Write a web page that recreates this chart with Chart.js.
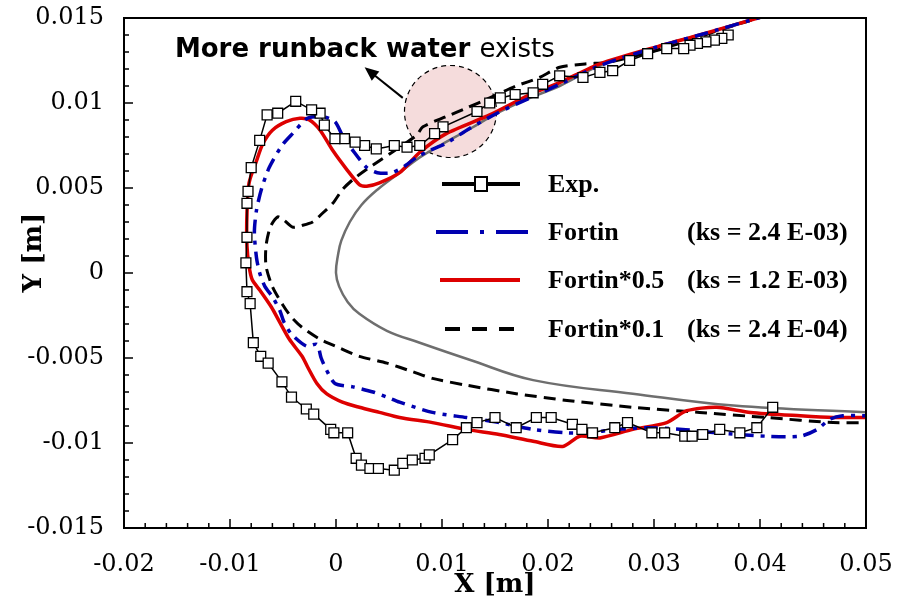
<!DOCTYPE html>
<html>
<head>
<meta charset="utf-8">
<script src="https://cdn.jsdelivr.net/npm/chart.js@4.4.1/dist/chart.umd.min.js"></script>
<style>
  html, body { margin: 0; padding: 0; background: #fff; }
  #wrap { width: 901px; height: 605px; }
</style>
</head>
<body>
<div id="wrap"><canvas id="c" width="901" height="605"></canvas></div>
<script>
// Ice shapes on the airfoil leading edge: experiment vs. Fortin roughness variants
const xTickLabels = ['-0.02', '-0.01', '0', '0.01', '0.02', '0.03', '0.04', '0.05'];
const yTickLabels = ['-0.015', '-0.01', '-0.005', '0', '0.005', '0.01', '0.015'];

const seriesNames = ['Exp.', 'Fortin', 'Fortin*0.5', 'Fortin*0.1'];
const ksLabels = ['', '(ks = 2.4 E-03)', '(ks = 1.2 E-03)', '(ks = 2.4 E-04)'];

// Experimental ice contour (upper trailing end -> leading edge -> lower end)
const expX = [0.0370,0.0364,0.0357,0.0349,0.0341,0.0334,0.0328,0.0312,0.0294,0.0277,
  0.0261,0.0249,0.0233,0.0211,0.0195,0.0186,0.0169,0.0155,0.0145,0.0133,
  0.0101,0.0093,0.0079,0.0067,0.0055,0.0038,0.0027,0.0018,0.0008,-0.0001,
  -0.0011,-0.0015,-0.0023,-0.0038,-0.0055,-0.0065,-0.0072,-0.0080,-0.0083,-0.0084,
  -0.0084,-0.0085,-0.0084,-0.0081,-0.0078,-0.0071,-0.0064,-0.0051,-0.0042,-0.0028,
  -0.0021,-0.0005,-0.0002,0.0011,0.0019,0.0024,0.0032,0.0040,0.0055,0.0063,
  0.0072,0.0084,0.0088,0.0110,0.0123,0.0133,0.0150,0.0170,0.0189,0.0203,
  0.0223,0.0232,0.0242,0.0263,0.0275,0.0298,0.0310,0.0329,0.0336,0.0346,
  0.0362,0.0381,0.0397,0.0412];
const expY = [0.0140,0.0138,0.0137,0.0136,0.0135,0.0134,0.0132,0.0132,0.0129,0.0125,
  0.0119,0.0118,0.0115,0.0116,0.0111,0.0106,0.0105,0.0103,0.0100,0.0095,
  0.0086,0.0082,0.0075,0.0074,0.0075,0.0073,0.0075,0.0077,0.0079,0.0079,
  0.0087,0.0094,0.0096,0.0101,0.0094,0.0093,0.0078,0.0062,0.0048,0.0041,
  0.0021,0.0006,-0.0011,-0.0018,-0.0041,-0.0049,-0.0053,-0.0064,-0.0073,-0.0080,
  -0.0083,-0.0092,-0.0094,-0.0094,-0.0109,-0.0113,-0.0115,-0.0115,-0.0116,-0.0112,
  -0.0110,-0.0109,-0.0107,-0.0098,-0.0091,-0.0088,-0.0085,-0.0091,-0.0085,-0.0085,
  -0.0089,-0.0092,-0.0094,-0.0091,-0.0088,-0.0094,-0.0094,-0.0096,-0.0096,-0.0095,
  -0.0092,-0.0094,-0.0091,-0.0079];

// Fortin (ks = 2.4E-03)
const fortinX = [0.0409,0.0343,0.0308,0.0249,0.0211,0.0183,0.0152,0.0126,0.0103,0.0088,
  0.0076,0.0065,0.0053,0.0039,0.0029,0.0016,0.0006,-0.0001,-0.0013,-0.0027,
  -0.0041,-0.0051,-0.0063,-0.0070,-0.0075,-0.0077,-0.0075,-0.0072,-0.0067,-0.0060,
  -0.0053,-0.0049,-0.0042,-0.0028,-0.0018,-0.0014,-0.0009,-0.0001,0.0016,0.0035,
  0.0048,0.0060,0.0091,0.0123,0.0154,0.0186,0.0218,0.0237,0.0265,0.0293,
  0.0327,0.0359,0.0406,0.0438,0.0454,0.0466,0.0478,0.0501];
const fortinY = [0.0152,0.0140,0.0134,0.0122,0.0111,0.0103,0.0094,0.0085,0.0076,0.0072,
  0.0068,0.0063,0.0059,0.0059,0.0062,0.0072,0.0081,0.0089,0.0092,0.0091,
  0.0082,0.0075,0.0062,0.0050,0.0037,0.0024,0.0009,0.0000,-0.0008,-0.0014,
  -0.0022,-0.0029,-0.0036,-0.0043,-0.0042,-0.0050,-0.0057,-0.0065,-0.0067,-0.0070,
  -0.0073,-0.0076,-0.0082,-0.0085,-0.0088,-0.0092,-0.0094,-0.0094,-0.0092,-0.0091,
  -0.0092,-0.0094,-0.0096,-0.0096,-0.0092,-0.0086,-0.0084,-0.0084];

// Fortin*0.5 (ks = 1.2E-03)
const halfX = [0.0409,0.0343,0.0308,0.0249,0.0211,0.0183,0.0145,0.0104,0.0079,0.0060,
  0.0041,0.0029,0.0022,0.0010,-0.0003,-0.0015,-0.0025,-0.0034,-0.0047,-0.0060,
  -0.0069,-0.0075,-0.0082,-0.0084,-0.0084,-0.0082,-0.0079,-0.0072,-0.0061,-0.0053,
  -0.0044,-0.0032,-0.0027,-0.0018,-0.0009,0.0006,0.0022,0.0041,0.0060,0.0091,
  0.0123,0.0154,0.0186,0.0214,0.0230,0.0249,0.0280,0.0312,0.0331,0.0359,
  0.0391,0.0438,0.0469,0.0501];
const halfY = [0.0152,0.0140,0.0134,0.0123,0.0112,0.0105,0.0093,0.0082,0.0071,0.0059,
  0.0053,0.0051,0.0052,0.0061,0.0072,0.0084,0.0090,0.0091,0.0089,0.0084,
  0.0076,0.0066,0.0053,0.0035,0.0016,0.0004,-0.0004,-0.0010,-0.0020,-0.0029,
  -0.0039,-0.0049,-0.0055,-0.0065,-0.0071,-0.0076,-0.0079,-0.0082,-0.0085,-0.0088,
  -0.0092,-0.0095,-0.0099,-0.0102,-0.0096,-0.0097,-0.0092,-0.0088,-0.0081,-0.0079,
  -0.0082,-0.0084,-0.0085,-0.0085];

// Fortin*0.1 (ks = 2.4E-04)
const tenthX = [0.0409,0.0362,0.0334,0.0296,0.0258,0.0235,0.0211,0.0192,0.0170,0.0145,
  0.0123,0.0104,0.0082,0.0076,0.0060,0.0041,0.0029,0.0016,0.0006,-0.0003,
  -0.0013,-0.0022,-0.0032,-0.0041,-0.0049,-0.0055,-0.0062,-0.0066,-0.0066,-0.0060,
  -0.0050,-0.0042,-0.0032,-0.0015,0.0003,0.0022,0.0048,0.0072,0.0091,0.0123,
  0.0170,0.0218,0.0280,0.0343,0.0406,0.0469,0.0501];
const tenthY = [0.0152,0.0143,0.0137,0.0130,0.0124,0.0123,0.0121,0.0115,0.0110,0.0103,
  0.0097,0.0092,0.0086,0.0081,0.0074,0.0066,0.0061,0.0055,0.0049,0.0041,
  0.0035,0.0030,0.0028,0.0027,0.0031,0.0033,0.0027,0.0016,0.0004,-0.0008,
  -0.0019,-0.0026,-0.0032,-0.0039,-0.0044,-0.0049,-0.0053,-0.0058,-0.0062,-0.0066,
  -0.0071,-0.0075,-0.0079,-0.0082,-0.0085,-0.0088,-0.0088];

// Clean airfoil surface
const cleanX = [0.0409,0.0391,0.0343,0.0308,0.0249,0.0211,0.0183,0.0152,0.0127,0.0098,
  0.0079,0.0060,0.0039,0.0024,0.0013,0.0005,0.0002,0.0000,0.0003,0.0011,
  0.0022,0.0048,0.0079,0.0126,0.0186,0.0280,0.0375,0.0501];
const cleanY = [0.0152,0.0149,0.0140,0.0134,0.0122,0.0110,0.0103,0.0094,0.0085,0.0075,
  0.0068,0.0059,0.0049,0.0040,0.0030,0.0019,0.0011,0.0000,-0.0008,-0.0017,
  -0.0024,-0.0034,-0.0041,-0.0051,-0.0063,-0.0071,-0.0078,-0.0082];

const pts = (xs, ys) => xs.map((x, i) => ({ x, y: ys[i] }));

const BLUE = '#0000b0';
const RED = '#dd0000';
const GRAY = '#6e6e6e';

// first dataset is painted last (on top)
const datasets = [
  { label: seriesNames[0], data: pts(expX, expY), showLine: true, tension: 0,
    borderColor: '#000', borderWidth: 1.5, pointStyle: 'rect', pointRadius: 7,
    pointBackgroundColor: '#fff', pointBorderColor: '#000', pointBorderWidth: 1.3 },
  { label: seriesNames[1], data: pts(fortinX, fortinY), showLine: true, tension: 0.25,
    borderColor: BLUE, borderWidth: 3.5, borderDash: [14, 7, 4, 7], pointRadius: 0 },
  { label: seriesNames[2], data: pts(halfX, halfY), showLine: true, tension: 0.25,
    borderColor: RED, borderWidth: 3.5, pointRadius: 0 },
  { label: seriesNames[3], data: pts(tenthX, tenthY), showLine: true, tension: 0.25,
    borderColor: '#000', borderWidth: 3, borderDash: [12, 7], pointRadius: 0 },
  { label: 'clean', data: pts(cleanX, cleanY), showLine: true, tension: 0.4,
    borderColor: GRAY, borderWidth: 2.5, pointRadius: 0 }
];

// Pink highlight circle behind the curves
const decorBehind = {
  id: 'decorBehind',
  beforeDatasetsDraw(chart) {
    const { ctx, scales: { x, y } } = chart;
    const cx = x.getPixelForValue(0.0108), cy = y.getPixelForValue(0.0095);
    ctx.save();
    ctx.beginPath();
    ctx.arc(cx, cy, 46, 0, Math.PI * 2);
    ctx.fillStyle = '#f5dcdc';
    ctx.fill();
    ctx.setLineDash([5, 4]);
    ctx.lineWidth = 1.2;
    ctx.strokeStyle = '#000';
    ctx.stroke();
    ctx.restore();
  }
};

const frameAndNotes = {
  id: 'frameAndNotes',
  afterDraw(chart) {
    const { ctx, chartArea: a, scales: { x, y } } = chart;
    ctx.save();
    ctx.setLineDash([]);

    // inward major / minor tick marks
    ctx.strokeStyle = '#000';
    ctx.lineWidth = 1.5;
    ctx.beginPath();
    const xv = x.ticks.map(t => t.value);
    const xs = xv[1] - xv[0];
    xv.forEach((v, i) => {
      const p = x.getPixelForValue(v);
      ctx.moveTo(p, a.bottom); ctx.lineTo(p, a.bottom - 9);
      if (i < xv.length - 1) {
        for (let k = 1; k < 5; k++) {
          const m = x.getPixelForValue(v + xs * k / 5);
          ctx.moveTo(m, a.bottom); ctx.lineTo(m, a.bottom - 5);
        }
      }
    });
    const yv = y.ticks.map(t => t.value);
    const ys = yv[1] - yv[0];
    yv.forEach((v, i) => {
      const p = y.getPixelForValue(v);
      ctx.moveTo(a.left, p); ctx.lineTo(a.left + 9, p);
      if (i < yv.length - 1) {
        for (let k = 1; k < 5; k++) {
          const m = y.getPixelForValue(v + ys * k / 5);
          ctx.moveTo(a.left, m); ctx.lineTo(a.left + 5, m);
        }
      }
    });
    ctx.stroke();

    // plot frame, four solid bars
    const L = Math.round(a.left), T = Math.round(a.top);
    const R = Math.round(a.right), B = Math.round(a.bottom);
    ctx.fillStyle = '#000';
    ctx.fillRect(L - 1, T - 1, R - L + 2, 2);
    ctx.fillRect(L - 1, B - 1, R - L + 2, 2);
    ctx.fillRect(L - 1, T - 1, 2, B - T + 2);
    ctx.fillRect(R - 1, T - 1, 2, B - T + 2);

    // arrow toward the note
    const x0 = x.getPixelForValue(0.0063), y0 = y.getPixelForValue(0.0103);
    const x1 = x.getPixelForValue(0.0027), y1 = y.getPixelForValue(0.0121);
    const ang = Math.atan2(y1 - y0, x1 - x0);
    ctx.lineWidth = 2;
    ctx.beginPath();
    ctx.moveTo(x0, y0);
    ctx.lineTo(x1 - 9 * Math.cos(ang), y1 - 9 * Math.sin(ang));
    ctx.stroke();
    ctx.beginPath();
    ctx.moveTo(x1, y1);
    ctx.lineTo(x1 - 14 * Math.cos(ang) + 6 * Math.sin(ang), y1 - 14 * Math.sin(ang) - 6 * Math.cos(ang));
    ctx.lineTo(x1 - 14 * Math.cos(ang) - 6 * Math.sin(ang), y1 - 14 * Math.sin(ang) + 6 * Math.cos(ang));
    ctx.closePath();
    ctx.fill();

    // note text
    const tx = x.getPixelForValue(-0.0152), ty = y.getPixelForValue(0.0127);
    ctx.textBaseline = 'alphabetic';
    ctx.textAlign = 'left';
    ctx.font = 'bold 26px "DejaVu Sans"';
    const boldPart = 'More runback water';
    ctx.fillText(boldPart, tx, ty);
    const w = ctx.measureText(boldPart + ' ').width;
    ctx.font = '26px "DejaVu Sans"';
    ctx.fillText('exists', tx + w, ty);

    // legend
    const lx0 = a.left + 318, lx1 = a.left + 396;
    const tx1 = a.left + 424, tx2 = a.left + 563;
    const rows = [a.top + 166, a.top + 214, a.top + 262, a.top + 311];
    ctx.font = 'bold 26px "Liberation Serif"';
    ctx.textBaseline = 'middle';
    rows.forEach((ry, i) => {
      ctx.save();
      ctx.lineWidth = 4;
      if (i === 0) {
        ctx.strokeStyle = '#000';
        ctx.beginPath(); ctx.moveTo(lx0, ry); ctx.lineTo(lx1, ry); ctx.stroke();
        ctx.fillStyle = '#fff';
        ctx.lineWidth = 2;
        const cxm = (lx0 + lx1) / 2;
        ctx.fillRect(cxm - 6, ry - 7, 12, 14);
        ctx.strokeRect(cxm - 6, ry - 7, 12, 14);
      } else if (i === 1) {
        ctx.strokeStyle = BLUE;
        ctx.setLineDash([32, 12, 4, 12]);
        ctx.beginPath(); ctx.moveTo(lx0 - 6, ry); ctx.lineTo(lx1 + 8, ry); ctx.stroke();
      } else if (i === 2) {
        ctx.strokeStyle = RED;
        ctx.beginPath(); ctx.moveTo(lx0 - 2, ry); ctx.lineTo(lx1, ry); ctx.stroke();
      } else {
        ctx.strokeStyle = '#000';
        ctx.setLineDash([15, 12]);
        ctx.beginPath(); ctx.moveTo(lx0 + 3, ry); ctx.lineTo(lx1, ry); ctx.stroke();
      }
      ctx.restore();
      ctx.fillStyle = '#000';
      ctx.fillText(seriesNames[i], tx1, ry + 1);
      if (ksLabels[i]) ctx.fillText(ksLabels[i], tx2, ry + 1);
    });

    // vertical axis title
    ctx.save();
    ctx.translate(34, y.getPixelForValue(0.0012));
    ctx.rotate(-Math.PI / 2);
    ctx.font = 'bold 26px "DejaVu Serif"';
    ctx.textAlign = 'center';
    ctx.textBaseline = 'middle';
    ctx.fillText('Y [m]', 0, 0);
    ctx.restore();

    ctx.restore();
  }
};

new Chart(document.getElementById('c'), {
  type: 'scatter',
  data: { datasets },
  options: {
    responsive: false,
    animation: false,
    layout: { padding: { left: 0, right: 35, top: 18, bottom: 0 } },
    plugins: { legend: { display: false }, tooltip: { enabled: false } },
    scales: {
      x: {
        type: 'linear', min: -0.02, max: 0.05,
        grid: { display: false },
        border: { display: false },
        ticks: {
          stepSize: 0.01, color: '#000', padding: 14,
          font: { family: 'DejaVu Serif', size: 24 },
          maxRotation: 0, autoSkip: false,
          callback: (v, i) => xTickLabels[i]
        },
        title: { display: true, text: 'X [m]', color: '#000',
          font: { family: 'DejaVu Serif', size: 26, weight: 'bold' },
          padding: { top: 0, bottom: 4 } },
        afterFit: s => { s.height = 77; s.paddingLeft = 0; s.paddingRight = 0; }
      },
      y: {
        type: 'linear', min: -0.015, max: 0.015,
        grid: { display: false },
        border: { display: false },
        ticks: {
          stepSize: 0.005, color: '#000', padding: 12,
          font: { family: 'DejaVu Serif', size: 24 },
          autoSkip: false,
          callback: (v, i) => yTickLabels[i]
        },
        afterFit: s => { s.width = 124; s.paddingTop = 0; s.paddingBottom = 0; }
      }
    }
  },
  plugins: [decorBehind, frameAndNotes]
});
</script>
</body>
</html>
